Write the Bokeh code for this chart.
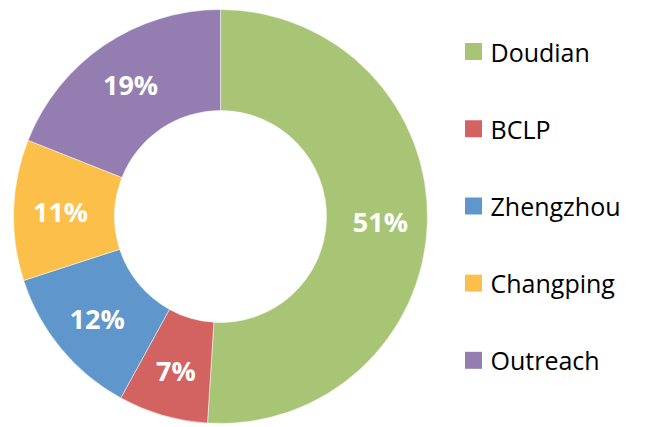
import numpy as np
from bokeh.plotting import figure
from bokeh.models import Range1d, ColumnDataSource
from bokeh.core.properties import value
from bokeh.embed import file_html
from bokeh.resources import INLINE

categories = ["Doudian", "BCLP", "Zhengzhou", "Changping", "Outreach"]
shares = [51, 7, 12, 11, 19]
colors = ["#A8C576", "#D26361", "#5F96CB", "#FCC04A", "#947DB0"]

W, H = 646, 427
cx, cy = 220, H - 216
r_out, r_in = 207, 106
r_lab = 160

frac = np.array(shares, dtype=float) / sum(shares)
cum = np.concatenate([[0], np.cumsum(frac)])
start = np.pi / 2 - 2 * np.pi * cum[:-1]
end = np.pi / 2 - 2 * np.pi * cum[1:]
mid = (start + end) / 2

src = ColumnDataSource(dict(
    start=start, end=end, color=colors,
    lx=cx + r_lab * np.cos(mid), ly=cy + r_lab * np.sin(mid),
    label=[f"{s}%" for s in shares],
))

p = figure(width=W, height=H, x_range=Range1d(0, W), y_range=Range1d(0, H),
           output_backend="svg", toolbar_location=None, min_border=0)
p.axis.visible = False
p.grid.visible = False
p.outline_line_color = None

p.annular_wedge(x=cx, y=cy, inner_radius=r_in, outer_radius=r_out,
                start_angle="start", end_angle="end", direction="clock",
                fill_color="color", line_color="white", line_width=0.5, source=src)

p.text(x="lx", y="ly", text="label", source=src, text_color="white",
       text_font=value("Open Sans"), text_font_style="bold", text_font_size="27px",
       text_align="center", text_baseline="middle")

# legend
lg_y = H - (51 + 77.2 * np.arange(len(categories)))
lsrc = ColumnDataSource(dict(y=lg_y, color=colors, name=categories,
                             x=[473] * len(categories), tx=[490] * len(categories)))
p.scatter(x="x", y="y", marker="square", size=17, fill_color="color",
          line_color=None, source=lsrc)
p.text(x="tx", y="y", text="name", source=lsrc, text_color="black",
       text_font=value("Open Sans"), text_font_size="25px",
       text_align="left", text_baseline="middle")

open("out.html", "w").write(file_html(p, INLINE))
